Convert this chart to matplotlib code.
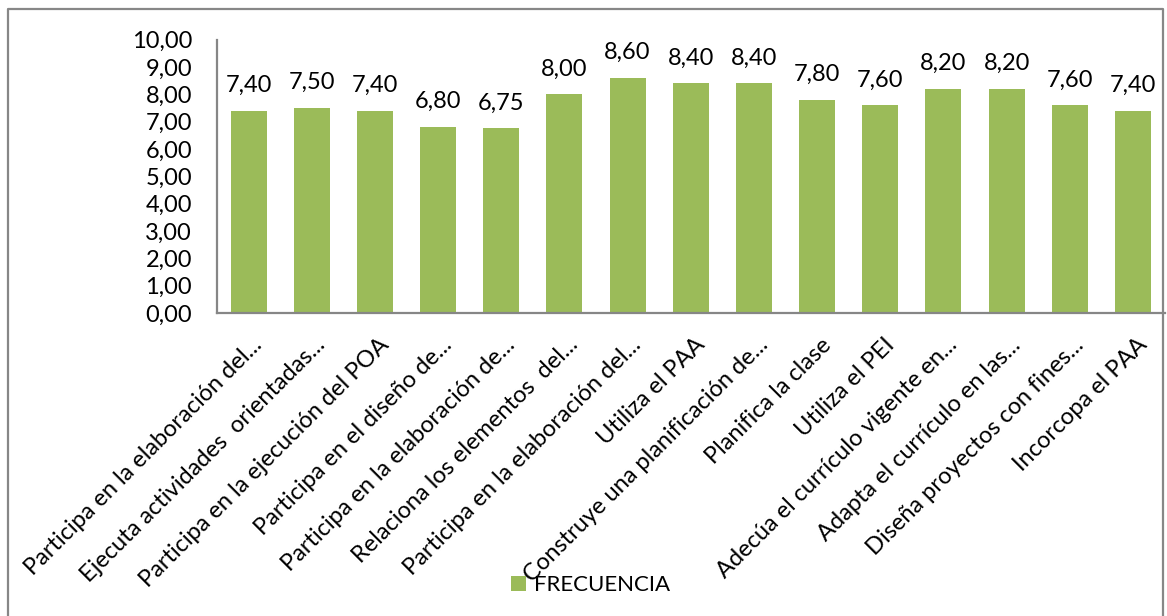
import matplotlib
matplotlib.use("Agg")
import matplotlib.pyplot as plt
from matplotlib.lines import Line2D
from matplotlib.transforms import ScaledTranslation

categories = [
    "Participa en la elaboración del...",
    "Ejecuta actividades  orientadas...",
    "Participa en la ejecución del POA",
    "Participa en el diseño de...",
    "Participa en la elaboración de...",
    "Relaciona los elementos  del...",
    "Participa en la elaboración del...",
    "Utiliza el PAA",
    "Construye una planificación de...",
    "Planifica la clase",
    "Utiliza el PEI",
    "Adecúa el currículo vigente en...",
    "Adapta el currículo en las...",
    "Diseña proyectos con fines...",
    "Incorcopa el PAA",
]
values = [7.40, 7.50, 7.40, 6.80, 6.75, 8.00, 8.60, 8.40, 8.40, 7.80, 7.60, 8.20, 8.20, 7.60, 7.40]
series_name = "FRECUENCIA"
yticks = [0, 1, 2, 3, 4, 5, 6, 7, 8, 9, 10]

plt.rcParams['font.family'] = ['Lato', 'DejaVu Sans']

W, H = 1167, 616
fig = plt.figure(figsize=(W / 100, H / 100), dpi=100)
ax = fig.add_axes([217 / W, 1 - 313 / H, (1164.5 - 217) / W, (313 - 39.6) / H])

x = list(range(len(categories)))
bars = ax.bar(x, values, width=0.57, color="#9BBB59", label=series_name, zorder=2)

for xi, v in zip(x, values):
    ax.annotate(f"{v:.2f}".replace(".", ","), (xi, v), xytext=(0, 13.5),
                textcoords="offset points", ha="center", va="baseline", fontsize=17)

ax.set_xlim(-0.5, len(categories) - 0.5)
ax.set_ylim(0, 10)
ax.set_yticks(yticks)
ax.set_yticklabels([f"{t:.2f}".replace(".", ",") for t in yticks], fontsize=17)
ax.tick_params(axis="y", length=0, pad=18)
ax.set_xticks(x)
ax.set_xticklabels(categories, rotation=45, ha="right", va="baseline",
                   rotation_mode="anchor", fontsize=17)
ax.tick_params(axis="x", length=0, pad=0)
off = ScaledTranslation(0.15, -0.33, fig.dpi_scale_trans)
for lbl in ax.get_xticklabels():
    lbl.set_transform(lbl.get_transform() + off)

for s in ["top", "right"]:
    ax.spines[s].set_visible(False)
for s in ["left", "bottom"]:
    ax.spines[s].set_color("#868686")
    ax.spines[s].set_linewidth(1.6)

fig.legend(handles=[bars], labels=[series_name], loc="center left",
           bbox_to_anchor=(511 / W, 1 - 585 / H), frameon=False,
           fontsize=16, handlelength=0.68, handleheight=0.68, handletextpad=0.35,
           borderpad=0, borderaxespad=0)

# outer chart border (left, top, right)
bx0, bx1, by0, by1 = 8 / W, 1162.5 / W, -0.01, 1 - 9 / H
fig.add_artist(Line2D([bx0, bx0, bx1, bx1], [by0, by1, by1, by0],
                      transform=fig.transFigure, color="#878787", linewidth=1.6))

fig.savefig("out.png", dpi=100)
